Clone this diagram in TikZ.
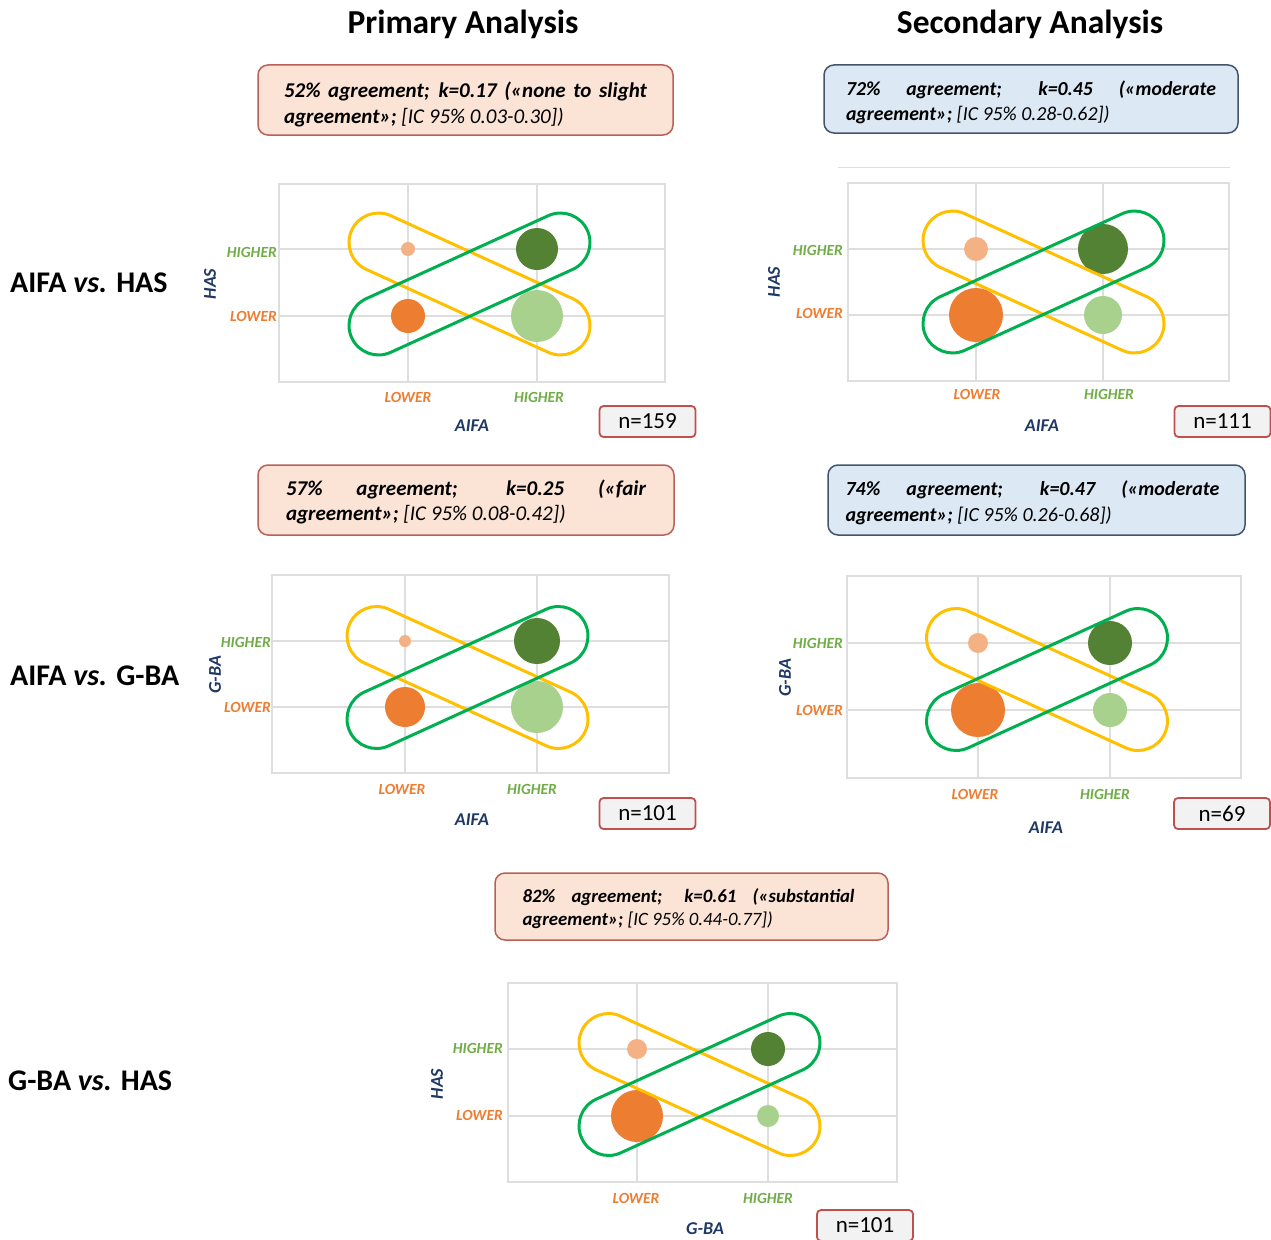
\documentclass[tikz,border=0pt]{standalone}
\usepackage{fontspec}
\setmainfont{Carlito}
\definecolor{cyellow}{HTML}{FFC000}
\definecolor{cgreen}{HTML}{00B050}
\definecolor{cpeach}{HTML}{F4B183}
\definecolor{corange}{HTML}{ED7D31}
\definecolor{cdkgreen}{HTML}{548235}
\definecolor{cltgreen}{HTML}{A9D18E}
\definecolor{chigher}{HTML}{70AD47}
\definecolor{cnavy}{HTML}{1F3864}
\definecolor{cgrid}{HTML}{DEDEDE}
\definecolor{pinkfill}{HTML}{FBE3D6}
\definecolor{pinkedge}{HTML}{B9605A}
\definecolor{bluefill}{HTML}{DCE9F5}
\definecolor{blueedge}{HTML}{44546A}
\definecolor{nedge}{HTML}{C0504D}
\definecolor{nfill}{HTML}{F2F2F2}
\newcommand\fs[2]{\fontsize{#1}{#2}\selectfont}
\newcommand\chartframe[8]{%
  \draw[gridl] (#5,#2) -- (#5,#4);
  \draw[gridl] (#6,#2) -- (#6,#4);
  \draw[gridl] (#1,#7) -- (#3,#7);
  \draw[gridl] (#1,#8) -- (#3,#8);
  \draw[gridl] (#1,#2) rectangle (#3,#4);}
\newcommand\twoloops[2]{%
  \begin{scope}[shift={(#1,#2)}]
    \begin{scope}[rotate=-24.5]
      \draw[yloop, rounded corners=29.5pt] (-129.5,-29.5) -- (129.5,-29.5) -- (129.5,29.5)
        -- (-129.5,29.5) -- cycle;
    \end{scope}
    \begin{scope}[rotate=24.5]
      \draw[gloop, rounded corners=29.5pt] (-129.5,-29.5) -- (129.5,-29.5) -- (129.5,29.5)
        -- (-129.5,29.5) -- cycle;
    \end{scope}
  \end{scope}}
\begin{document}
\begin{tikzpicture}[x=1pt,y=-1pt,
  gridl/.style={draw=cgrid, line width=1.3},
  yloop/.style={draw=cyellow, line width=3},
  gloop/.style={draw=cgreen, line width=3},
  hlab/.style={font=\fs{15.5}{18}\bfseries\itshape, text=chigher, inner sep=0},
  llab/.style={font=\fs{15.5}{18}\bfseries\itshape, text=corange, inner sep=0},
  axt/.style={font=\fs{18}{20}\bfseries\itshape, text=cnavy, inner sep=0},
  nbox/.style={draw=nedge, fill=nfill, line width=1.8, rounded corners=4,
    minimum width=96, minimum height=31, inner sep=0, font=\fs{23}{25}},
  pinkbox/.style={draw=pinkedge, fill=pinkfill, line width=1.5, rounded corners=10, inner sep=0},
  bluebox/.style={draw=blueedge, fill=bluefill, line width=1.5, rounded corners=10, inner sep=0},
  agrtext/.style={align=justify, inner sep=0},
  title/.style={font=\fs{33.5}{36}\bfseries, inner sep=0},
  rowlab/.style={font=\fs{30}{32}\bfseries, inner sep=0, anchor=west}]
\useasboundingbox (0,0) rectangle (1271,1239);
\fill[white] (0,0) rectangle (1271,1239);

% titles
\node[title] (tprim) at (463,24) {Primary Analysis};
\node[title] (tsec) at (1030,24) {Secondary Analysis};

% row labels
\node[rowlab] (row1) at (10,283) {AIFA \textit{vs.} HAS};
\node[rowlab] (row2) at (10,676) {AIFA \textit{vs.} G-BA};
\node[rowlab] (row3) at (8,1081) {G-BA \textit{vs.} HAS};

% agreement boxes
\node[pinkbox, minimum width=415, minimum height=70] (a1) at (465.5,100) {};
\node[agrtext, text width=363, font=\fs{21}{26}\bfseries\itshape] (a1t) at ([yshift=-4pt]a1.center)
  {52\% agreement; k=0.17 («none to slight\linebreak agreement»;\mdseries\ [IC 95\% 0.03-0.30])};
\node[bluebox, minimum width=414, minimum height=68] (a2) at (1031,99) {};
\node[agrtext, text width=370, font=\fs{19.8}{25}\bfseries\itshape] (a2t) at ([yshift=-3pt]a2.center)
  {72\% agreement; k=0.45 («moderate\linebreak agreement»;\mdseries\ [IC 95\% 0.28-0.62])};
\node[pinkbox, minimum width=416, minimum height=70] (a3) at (466,500) {};
\node[agrtext, text width=360, font=\fs{21}{25}\bfseries\itshape] (a3t) at ([yshift=-2pt]a3.center)
  {57\% agreement; k=0.25 («fair\linebreak agreement»;\mdseries\ [IC 95\% 0.08-0.42])};
\node[bluebox, minimum width=417, minimum height=70] (a4) at (1036.5,500) {};
\node[agrtext, text width=374, font=\fs{20}{26}\bfseries\itshape] (a4t) at ([xshift=-4pt,yshift=-3pt]a4.center)
  {74\% agreement; k=0.47 («moderate\linebreak agreement»;\mdseries\ [IC 95\% 0.26-0.68])};
\node[pinkbox, minimum width=393, minimum height=67] (a5) at (691.5,906.5) {};
\node[agrtext, text width=332, font=\fs{18.8}{23}\bfseries\itshape] (a5t) at ([xshift=-3pt,yshift=-2pt]a5.center)
  {82\% agreement; k=0.61 («substantial\linebreak agreement»;\mdseries\ [IC 95\% 0.44-0.77])};

\draw[draw=cgrid, line width=0.8] (838,167) -- (1230,167);

% ---------- panel 1 ----------
\chartframe{279}{184}{665}{382}{408}{537}{249}{316}
\fill[cpeach] (408,249) circle[radius=7];
\fill[cdkgreen] (537,249) circle[radius=21];
\fill[corange] (408,316) circle[radius=17];
\fill[cltgreen] (537,316) circle[radius=26];
\twoloops{469.5}{284}
\node[hlab, anchor=east] (p1yh) at (277,252) {HIGHER};
\node[llab, anchor=east] (p1yl) at (277,316) {LOWER};
\node[llab] (p1xl) at (408,397) {LOWER};
\node[hlab] (p1xh) at (539,397) {HIGHER};
\node[axt] (p1x) at (472,426) {AIFA};
\node[axt, rotate=90] (p1y) at (210,284) {HAS};
\node[nbox] (n1) at (647.5,421.5) {n=159};

% ---------- panel 2 ----------
\chartframe{848}{183}{1229}{381}{976}{1103}{249}{315}
\fill[cpeach] (976,249) circle[radius=12];
\fill[cdkgreen] (1103,249) circle[radius=25];
\fill[corange] (976,315) circle[radius=27];
\fill[cltgreen] (1103,315) circle[radius=19];
\twoloops{1043.5}{282}
\node[hlab, anchor=east] (p2yh) at (843,250) {HIGHER};
\node[llab, anchor=east] (p2yl) at (843,313) {LOWER};
\node[llab] (p2xl) at (977,394) {LOWER};
\node[hlab] (p2xh) at (1109,394) {HIGHER};
\node[axt] (p2x) at (1042,426) {AIFA};
\node[axt, rotate=90] (p2y) at (774,282) {HAS};
\node[nbox] (n2) at (1222.5,421.5) {n=111};

% ---------- panel 3 ----------
\chartframe{272}{575}{669}{773}{405}{537}{641}{707}
\fill[cpeach] (405,641) circle[radius=6];
\fill[cdkgreen] (537,641) circle[radius=23];
\fill[corange] (405,707) circle[radius=20];
\fill[cltgreen] (537,707) circle[radius=26];
\twoloops{467.5}{677.5}
\node[hlab, anchor=east] (p3yh) at (271,642) {HIGHER};
\node[llab, anchor=east] (p3yl) at (271,707) {LOWER};
\node[llab] (p3xl) at (402,789) {LOWER};
\node[hlab] (p3xh) at (532,789) {HIGHER};
\node[axt] (p3x) at (472,820) {AIFA};
\node[axt, rotate=90] (p3y) at (215,675) {G-BA};
\node[nbox] (n3) at (647.5,813.5) {n=101};

% ---------- panel 4 ----------
\chartframe{847}{576}{1241}{778}{978}{1110}{643}{710}
\fill[cpeach] (978,643) circle[radius=10];
\fill[cdkgreen] (1110,643) circle[radius=22];
\fill[corange] (978,710) circle[radius=27];
\fill[cltgreen] (1110,710) circle[radius=17];
\twoloops{1047}{679.5}
\node[hlab, anchor=east] (p4yh) at (843,643) {HIGHER};
\node[llab, anchor=east] (p4yl) at (843,710) {LOWER};
\node[llab] (p4xl) at (975,794) {LOWER};
\node[hlab] (p4xh) at (1105,794) {HIGHER};
\node[axt] (p4x) at (1046,828) {AIFA};
\node[axt, rotate=90] (p4y) at (785,678) {G-BA};
\node[nbox] (n4) at (1222,813.5) {n=69};

% ---------- panel 5 ----------
\chartframe{508}{983}{897}{1182}{637}{768}{1049}{1116}
\fill[cpeach] (637,1049) circle[radius=10];
\fill[cdkgreen] (768,1049) circle[radius=17];
\fill[corange] (637,1116) circle[radius=26];
\fill[cltgreen] (768,1116) circle[radius=11];
\twoloops{699.5}{1084.5}
\node[hlab, anchor=east] (p5yh) at (503,1048) {HIGHER};
\node[llab, anchor=east] (p5yl) at (503,1115) {LOWER};
\node[llab] (p5xl) at (636,1198) {LOWER};
\node[hlab] (p5xh) at (768,1198) {HIGHER};
\node[axt] (p5x) at (705,1229) {G-BA};
\node[axt, rotate=90] (p5y) at (437,1084) {HAS};
\node[nbox] (n5) at (865,1225.5) {n=101};
\end{tikzpicture}
\end{document}
